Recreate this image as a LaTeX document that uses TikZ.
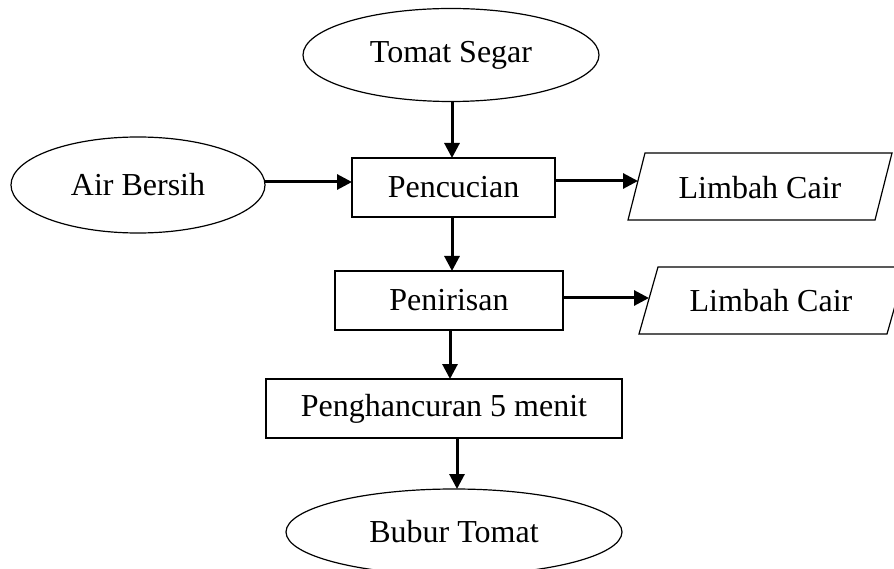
\documentclass[tikz,border=0pt]{standalone}
\usepackage{fontspec}
\setmainfont{Liberation Serif}
\usetikzlibrary{shapes.geometric,arrows.meta}
\begin{document}
\begin{tikzpicture}[x=1pt,y=-1pt,
  every node/.style={font=\fontsize{32}{36}\selectfont, inner sep=0pt},
  oval/.style={draw, ellipse, line width=1.2pt},
  procbox/.style={draw, rectangle, line width=1.2pt, minimum height=59pt},
  para/.style={draw, line width=1.2pt, line join=miter},
  flow/.style={line width=3pt, -{Triangle[length=15pt,width=15pt]}}]
\clip (0,0) rectangle (894,569);
\fill[white] (0,0) rectangle (894,569);
% ellipses
\node[oval, minimum width=296pt, minimum height=93pt] (tomat) at (451,55) {Tomat Segar};
\node[oval, minimum width=254pt, minimum height=96pt] (air) at (138,185) {Air Bersih};
\node[oval, minimum width=336pt, minimum height=86pt] (bubur) at (454,532) {Bubur Tomat};
% process boxes
\node[procbox, minimum width=203pt] (cuci) at (453.5,187.5) {Pencucian};
\node[procbox, minimum width=228pt] (tiris) at (449,300.5) {Penirisan};
\node[procbox, minimum width=356pt] (hancur) at (444,408.5) {Penghancuran 5 menit};
% parallelograms
\coordinate (l1a) at (645,153); \coordinate (l1b) at (892,153);
\coordinate (l1c) at (875,220); \coordinate (l1d) at (628,220);
\draw[para] (l1a) -- (l1b) -- (l1c) -- (l1d) -- cycle;
\node (limbah1) at (760,188) {Limbah Cair};
\coordinate (l2a) at (658,267); \coordinate (l2b) at (906,267);
\coordinate (l2c) at (887,334); \coordinate (l2d) at (639,334);
\draw[para] (l2a) -- (l2b) -- (l2c) -- (l2d) -- cycle;
\node (limbah2) at (771,301) {Limbah Cair};
% arrow anchor points
\coordinate (t1) at (452,102); \coordinate (t2) at (452,158);
\coordinate (a1) at (265,182); \coordinate (a2) at (352,182);
\coordinate (c1) at (555,181); \coordinate (c2) at (638,181);
\coordinate (c3) at (452,217); \coordinate (c4) at (452,271);
\coordinate (r1) at (563,298); \coordinate (r2) at (649,298);
\coordinate (r3) at (450,330); \coordinate (r4) at (450,379);
\coordinate (h1) at (457,438); \coordinate (h2) at (457,489);
% connectors
\draw[flow] (t1) -- (t2);
\draw[flow] (a1) -- (a2);
\draw[flow] (c1) -- (c2);
\draw[flow] (c3) -- (c4);
\draw[flow] (r1) -- (r2);
\draw[flow] (r3) -- (r4);
\draw[flow] (h1) -- (h2);
\end{tikzpicture}
\end{document}
